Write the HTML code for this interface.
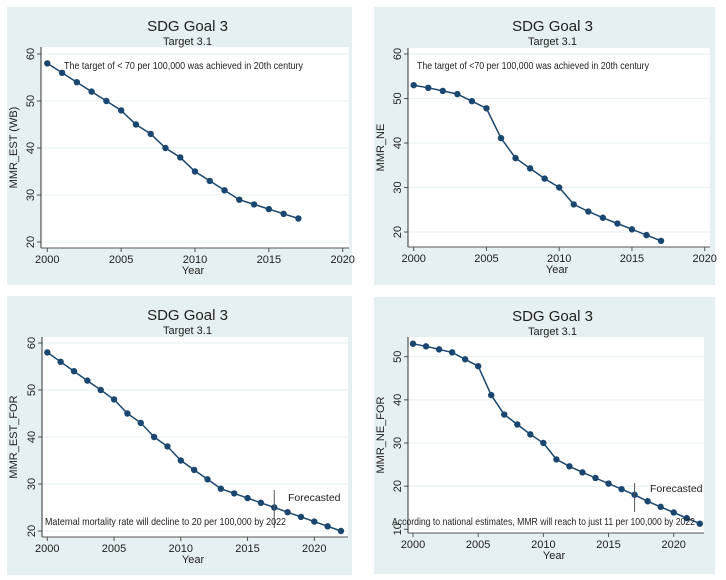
<!DOCTYPE html>
<html><head><meta charset="utf-8"><style>
html,body{margin:0;padding:0;background:#fff;}
svg{display:block;font-family:"Liberation Sans",sans-serif;}
</style></head><body>
<svg id="c" width="726" height="580" viewBox="0 0 726 580"></svg>
<script>
const yearsHist = [2000,2001,2002,2003,2004,2005,2006,2007,2008,2009,2010,2011,2012,2013,2014,2015,2016,2017];
const yearsFor = [2000,2001,2002,2003,2004,2005,2006,2007,2008,2009,2010,2011,2012,2013,2014,2015,2016,2017,2018,2019,2020,2021,2022];
const mmrEst = [58,56,54,52,50,48,45,43,40,38,35,33,31,29,28,27,26,25];
const mmrEstFor = [58,56,54,52,50,48,45,43,40,38,35,33,31,29,28,27,26,25,24,23,22,21,20];
const mmrNe = [53,52.4,51.7,51,49.4,47.8,41.1,36.6,34.3,32,30,26.2,24.6,23.2,21.9,20.6,19.3,18.0];
const mmrNeFor = [53,52.4,51.7,51,49.4,47.8,41.1,36.6,34.3,32,30,26.2,24.6,23.2,21.9,20.6,19.3,18.0,16.5,15.2,13.9,12.6,11.3];
const yTicksA = [20,30,40,50,60];
const yTicksB = [10,20,30,40,50];
const xTicks = [2000,2005,2010,2015,2020];

const NS="http://www.w3.org/2000/svg";
const svg=document.getElementById('c');
function mk(tag,attrs,parent){const e=document.createElementNS(NS,tag);for(const k in attrs)e.setAttribute(k,attrs[k]);(parent||svg).appendChild(e);return e;}

const panels=[
 {name:'mmr-est-panel',px:7,py:7,pw:345,ph:278,L:41,R:349,T:47,B:248,y0:20,y1:60,yp0:242,yp1:54,x0:2000,x1:2020,xp0:47.3,xp1:342.7,
  yt:yTicksA,xs:yearsHist,vs:mmrEst,ylab:'MMR_EST (WB)',note:'The target of < 70 per 100,000 was achieved in 20th century',nx:64,ny:65,nw:239},
 {name:'mmr-ne-panel',px:374,py:7,pw:341,ph:278,L:408,R:710,T:48,B:247,y0:20,y1:60,yp0:232,yp1:54,x0:2000,x1:2020,xp0:413.7,xp1:704.7,
  yt:yTicksA,xs:yearsHist,vs:mmrNe,ylab:'MMR_NE',note:'The target of <70 per 100,000 was achieved in 20th century',nx:417,ny:65,nw:232},
 {name:'mmr-est-for-panel',px:7,py:296,pw:345,ph:279,L:42,R:348,T:337,B:537,y0:20,y1:60,yp0:531,yp1:343,x0:2000,x1:2020,xp0:47.3,xp1:314.3,
  yt:yTicksA,xs:yearsFor,vs:mmrEstFor,ylab:'MMR_EST_FOR',note:'Maternal mortality rate will decline to 20 per 100,000 by 2022',nx:45,ny:521,nw:241,
  fc:{y1:490,y2:528,tx:288,ty:497}},
 {name:'mmr-ne-for-panel',px:374,py:297,pw:341,ph:277,L:408,R:704,T:337,B:533,y0:10,y1:50,yp0:529.3,yp1:356.7,x0:2000,x1:2020,xp0:413,xp1:673.7,
  yt:yTicksB,xs:yearsFor,vs:mmrNeFor,ylab:'MMR_NE_FOR',note:'According to national estimates, MMR will reach to just 11 per 100,000 by 2022',nx:392,ny:521,nw:303,
  fc:{y1:483,y2:512,tx:650,ty:488}}
];

panels.forEach(p=>{
  const g=mk('g',{});
  
  
  const sx=v=>p.xp0+(v-p.x0)*(p.xp1-p.xp0)/(p.x1-p.x0);
  const sy=v=>p.yp0+(v-p.y0)*(p.yp1-p.yp0)/(p.y1-p.y0);
  mk('rect',{x:p.px,y:p.py,width:p.pw,height:p.ph,fill:'#e6eff1'},g);
  mk('rect',{x:p.L,y:p.T,width:p.R-p.L,height:p.B-p.T,fill:'#fff'},g);
  const cx=(p.px+p.pw/2);
  const t=mk('text',{x:cx+8,y:p.py+24,'text-anchor':'middle','font-size':'15',fill:'#1e1e1e'},g);t.textContent='SDG Goal 3';
  
  const st=mk('text',{x:cx+8,y:p.py+38,'text-anchor':'middle','font-size':'11',fill:'#1e1e1e'},g);st.textContent='Target 3.1';
  
  // grid + y ticks
  p.yt.forEach(v=>{
    const y=sy(v);
    mk('line',{x1:p.L,x2:p.R,y1:y,y2:y,stroke:'#eaf2f3','stroke-width':1.2},g);
    mk('line',{x1:p.L-4,x2:p.L,y1:y,y2:y,stroke:'#555','stroke-width':1},g);
    const tl=mk('text',{x:0,y:0,transform:`translate(${p.L-7},${y}) rotate(-90)`,'text-anchor':'middle','font-size':'11',fill:'#1e1e1e'},g);
    tl.textContent=v;
    
  });
  xTicks.forEach(v=>{
    const x=sx(v);
    mk('line',{x1:x,x2:x,y1:p.B,y2:p.B+4,stroke:'#555','stroke-width':1},g);
    const tl=mk('text',{x:x,y:p.B+15,'text-anchor':'middle','font-size':'11',fill:'#1e1e1e'},g);
    tl.textContent=v;
    
  });
  mk('line',{x1:p.L,x2:p.L,y1:p.T,y2:p.B,stroke:'#333','stroke-width':1},g);
  mk('line',{x1:p.L,x2:p.R,y1:p.B,y2:p.B,stroke:'#555','stroke-width':1},g);
  const xl=mk('text',{x:(p.L+p.R)/2-2,y:p.B+26,'text-anchor':'middle','font-size':'11',fill:'#1e1e1e'},g);xl.textContent='Year';
  
  const yl=mk('text',{x:0,y:0,transform:`translate(${p.px+10},${(p.T+p.B)/2}) rotate(-90)`,'text-anchor':'middle','font-size':'11',fill:'#1e1e1e'},g);
  yl.textContent=p.ylab;
  
  // series
  const pts=p.xs.map((x,i)=>sx(x).toFixed(1)+','+sy(p.vs[i]).toFixed(1)).join(' ');
  const pl=mk('polyline',{points:pts,fill:'none',stroke:'#1a476f','stroke-width':1.5},g);
  
  p.xs.forEach((x,i)=>{
    const c=mk('circle',{cx:sx(x),cy:sy(p.vs[i]),r:3.2,fill:'#1a476f'},g);
    
    
  });
  const n=mk('text',{x:p.nx,y:p.ny+4,'font-size':'10.5',fill:'#1e1e1e',textLength:p.nw,lengthAdjust:'spacingAndGlyphs'},g);
  n.textContent=p.note;
  
  if(p.fc){
    const x=sx(2017);
    const fl=mk('line',{x1:x,x2:x,y1:p.fc.y1,y2:p.fc.y2,stroke:'#555','stroke-width':1},g);
    
    const ft=mk('text',{x:p.fc.tx,y:p.fc.ty+4,'font-size':'10.5',fill:'#1e1e1e'},g);ft.textContent='Forecasted';
    
  }
});
</script>
</body></html>
